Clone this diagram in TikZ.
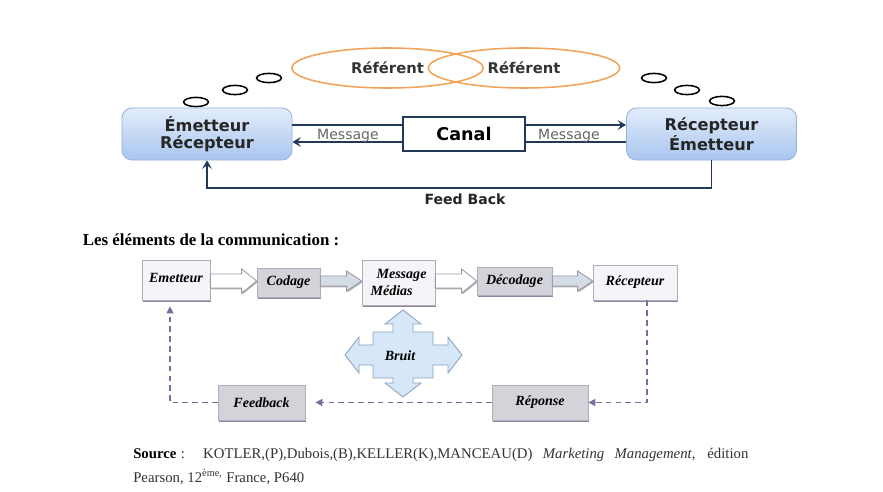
\documentclass[tikz,border=0pt]{standalone}
\usepackage{fontspec}
\setmainfont{Liberation Serif}
\newfontfamily\vfont{DejaVu Sans}
\usetikzlibrary{shapes.geometric,arrows.meta,calc,shadows}

\definecolor{navy}{HTML}{23395B}
\definecolor{boxtop}{HTML}{E2EDFB}
\definecolor{boxbot}{HTML}{A9C5EE}
\definecolor{boxedge}{HTML}{93B3DE}
\definecolor{refcol}{HTML}{F2A25A}
\definecolor{lavfill}{HTML}{F5F4F9}
\definecolor{grayfill}{HTML}{D3D4DA}
\definecolor{edgegray}{HTML}{9A9AAA}
\definecolor{shadecol}{HTML}{6E6488}
\definecolor{dashcol}{HTML}{7C6B9E}
\definecolor{noisefill}{HTML}{D6E7F7}
\definecolor{noiseedge}{HTML}{8AA3BE}

\tikzset{
    topbox/.style={rounded corners=0.25cm, draw=boxedge, line width=0.6pt,
        top color=boxtop, bottom color=boxbot, minimum width=4.25cm,
        minimum height=1.3cm, align=center, text=black!85,
        font=\vfont\bfseries\fontsize{11.5}{11.8}\selectfont},
    canalbox/.style={draw=navy, line width=1pt, fill=white, minimum width=3.05cm,
        minimum height=0.85cm, font=\vfont\bfseries\fontsize{12.5}{13}\selectfont},
    link/.style={draw=navy, line width=1.4pt},
    linkarrow/.style={-{Stealth[length=6pt,width=7pt,inset=2.5pt]}},
    msgtext/.style={font=\vfont\fontsize{10}{11}\selectfont, text=black!60},
    fbtext/.style={font=\vfont\bfseries\fontsize{10}{11}\selectfont, text=black!85},
    referent/.style={ellipse, draw=refcol, line width=1.1pt, minimum width=4.78cm,
        minimum height=1cm, text=black!80,
        font=\vfont\bfseries\fontsize{10.5}{12}\selectfont},
    bubble/.style={draw=black, line width=1.1pt},
    lightbox/.style={draw=edgegray!80, fill=lavfill, line width=0.5pt, align=left,
        drop shadow={shadow xshift=0.6pt, shadow yshift=-1.3pt, fill=shadecol, opacity=0.8},
        font=\bfseries\itshape\fontsize{10}{11.5}\selectfont},
    graybox/.style={lightbox, fill=grayfill},
    openarrow/.style={draw=edgegray, fill=white, line width=0.6pt,
        drop shadow={shadow xshift=0.6pt, shadow yshift=-1pt, fill=gray, opacity=0.6}},
    greyarrow/.style={openarrow, fill=grayfill!60!noisefill},
    noise/.style={draw=noiseedge, fill=noisefill, line width=0.6pt},
    feedline/.style={draw=dashcol, line width=0.9pt, dash pattern=on 4pt off 3pt,
        -{Triangle[length=5pt,width=5pt]}}
}

\begin{document}
\begin{tikzpicture}[x=0.025cm, y=-0.025cm]
    \fill[white] (0,0) rectangle (883,492);
    \useasboundingbox (0,0) rectangle (883,492);

    % top: referents and thought bubbles
    \node[referent] (refl) at (387.5,68) {Référent};
    \node[referent] (refr) at (524,68) {Référent};
    \foreach \bx/\by in {196/102, 235/90, 269/78, 654/78, 687/90, 722/101}
        \draw[bubble] (\bx,\by) ellipse [x radius=0.31cm, y radius=0.115cm];

    % top: boxes
    \node[topbox] (emr) at (207,134) {Émetteur\\Récepteur};
    \node[topbox] (rem) at (711.5,134) {Récepteur\\Émetteur};
    \node[canalbox] (canal) at (464,134) {Canal};

    \draw[link] ([yshift=0.225cm]emr.east) -- ([yshift=0.225cm]canal.west);
    \draw[link, linkarrow] ([yshift=0.225cm]canal.east) -- ([yshift=0.225cm]rem.west);
    \draw[link] ([yshift=-0.2cm]rem.west) -- ([yshift=-0.2cm]canal.east);
    \draw[link, linkarrow] ([yshift=-0.2cm]canal.west) -- ([yshift=-0.2cm]emr.east);
    \node[msgtext] (msgl) at (348,135.5) {Message};
    \node[msgtext] (msgr) at (569,135.5) {Message};

    \draw[link, linkarrow] (rem.south) -- ++(0,27.5) -| (emr.south);
    \node[fbtext] (fb) at (465,199) {Feed Back};

    % bottom
    \node[anchor=west, font=\bfseries\fontsize{12}{14}\selectfont] (titre) at (78,240)
        {Les éléments de la communication :};

    \node[lightbox, minimum width=1.7cm, minimum height=1cm] (emet) at (176,280)
        {\raisebox{0.12cm}{Emetteur}};
    \node[graybox, minimum width=1.575cm, minimum height=0.725cm] (cod) at (288.5,282.5) {Codage};
    \node[lightbox, minimum width=1.825cm, minimum height=1.125cm] (msg) at (398.5,282.5)
        {\hspace*{0.15cm}Message\\Médias};
    \node[graybox, minimum width=1.875cm, minimum height=0.7cm] (dec) at (514.5,281) {Décodage};
    \node[lightbox, minimum width=2.1cm, minimum height=0.875cm] (recp) at (635,282.5) {Récepteur};
    \node[graybox, minimum width=2.175cm, minimum height=0.875cm] (fdb) at (261.5,402.5) {Feedback};
    \node[graybox, minimum width=2.4cm, minimum height=0.875cm] (rep) at (540,402.5) {Réponse};

    \foreach \a/\b/\s/\h/\st in {emet/cod/7/12/openarrow, cod/msg/5/10/greyarrow,
                                 msg/dec/7/12/openarrow, dec/recp/5/10/greyarrow} {
        \coordinate (t) at (\b.west |- 0,281);
        \coordinate (s) at (\a.east |- 0,281);
        \draw[\st] ($(s)+(0,-\s)$) -- ($(t)+(-15,-\s)$) -- ($(t)+(-15,-\h)$) -- (t)
            -- ($(t)+(-15,\h)$) -- ($(t)+(-15,\s)$) -- ($(s)+(0,\s)$) -- cycle;
    }

    % bruit
    \begin{scope}[shift={(403,355)}]
        \draw[noise] (-30,-23) -- (-10,-23) -- (-10,-31) -- (-18,-31) -- (0,-45)
            -- (18,-31) -- (10,-31) -- (10,-23) -- (30,-23) -- (30,-10) -- (45,-10)
            -- (45,-18) -- (59,0) -- (45,18) -- (45,10) -- (30,10) -- (30,23)
            -- (10,23) -- (10,28) -- (18,28) -- (0,42) -- (-18,28) -- (-10,28)
            -- (-10,23) -- (-30,23) -- (-30,10) -- (-44,10) -- (-44,18) -- (-58,0)
            -- (-44,-18) -- (-44,-10) -- (-30,-10) -- cycle;
    \end{scope}
    \node[font=\bfseries\itshape\fontsize{10}{12}\selectfont] (bruit) at (400,356) {Bruit};

    \draw[feedline] ([xshift=0.3cm]recp.south) |- (rep.east);
    \draw[feedline, shorten >=0.25cm] (rep.west) -- (fdb.east);
    \draw[feedline, shorten >=0.15cm] (fdb.west) -| ([xshift=-0.15cm]emet.south);

    % source
    \node[anchor=base west, inner sep=0, text=black!80, font=\fontsize{10.5}{12}\selectfont]
        (src1) at (133,458.5)
        {\makebox[15.375cm][s]{\textbf{\color{black}Source}\hspace{0.3em}: KOTLER,(P),Dubois,(B),KELLER(K),MANCEAU(D) \textit{Marketing Management}, édition}};
    \node[anchor=base west, inner sep=0, text=black!80, font=\fontsize{10.5}{12}\selectfont]
        (src2) at (133,482.5) {Pearson, 12\textsuperscript{ème,} France, P640};
\end{tikzpicture}
\end{document}
